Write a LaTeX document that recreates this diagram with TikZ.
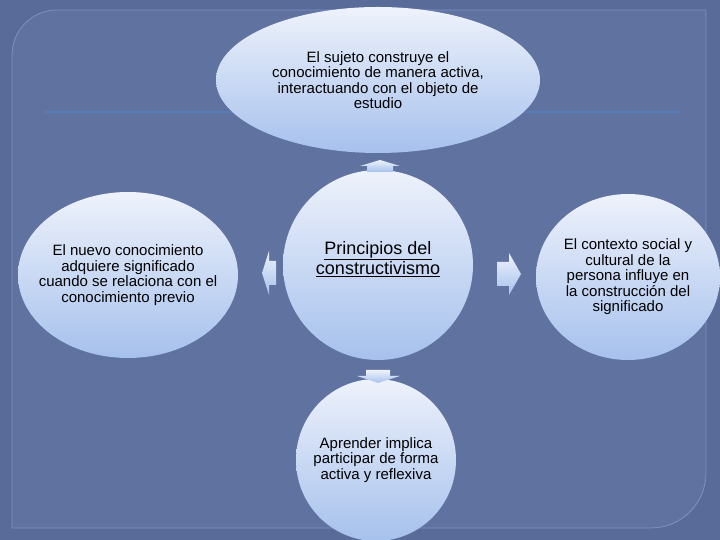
\documentclass[tikz,border=0pt]{standalone}
\usepackage{fontspec}
\setmainfont{Liberation Sans}
\usetikzlibrary{shapes.geometric}
\definecolor{bgout}{RGB}{89,107,152}
\definecolor{bgpanel}{RGB}{96,115,160}
\definecolor{panelline}{RGB}{125,146,196}
\definecolor{rule}{RGB}{88,124,184}
\definecolor{shtop}{RGB}{238,242,251}
\definecolor{shbot}{RGB}{166,193,237}
\tikzset{
  bubble/.style={ellipse, inner sep=0pt, top color=shtop, bottom color=shbot, draw=none},
  bubbletext/.style={align=center, text=black, inner sep=0pt, font=\fontsize{15}{15.5}\selectfont},
  blockarrow/.style={top color=shtop, bottom color=shbot, draw=none}
}
\begin{document}
\begin{tikzpicture}[x=1pt,y=1pt]
\useasboundingbox (0,0) rectangle (720,540);
\fill[bgout] (0,0) rectangle (720,540);
\path[fill=bgpanel, draw=panelline, line width=0.8pt]
  (12,12) -- (12,485) arc[start angle=180,end angle=90,radius=45] -- (706,530)
  -- (706,67) arc[start angle=0,end angle=-90,radius=55] -- cycle;
\draw[rule, line width=1.6pt] (45,428) -- (680,428);

\node[bubble, minimum width=324pt, minimum height=146pt] (top) at (378,460) {};
\node[bubbletext] (toptext) at (top.center)
  {El sujeto construye el\\conocimiento de manera activa,\\interactuando con el objeto de\\estudio};
\node[bubble, circle, minimum size=190pt] (center) at (378,275) {};
\node[align=center, inner sep=0pt, font=\fontsize{18}{20}\selectfont] (ctext) at (378,281)
  {\underline{Principios del}\\\underline{constructivismo}};
\node[bubble, minimum width=220pt, minimum height=166pt] (left) at (128,265) {};
\node[bubbletext] (lefttext) at (left.center)
  {El nuevo conocimiento\\adquiere significado\\cuando se relaciona con el\\conocimiento previo};
\node[bubble, minimum width=184pt, minimum height=166pt] (right) at (628,263) {};
\node[bubbletext] (righttext) at (right.center)
  {El contexto social y\\cultural de la\\persona influye en\\la construcción del\\significado};
\node[bubble, minimum width=160pt, minimum height=162pt] (bottom) at (376,80) {};
\node[bubbletext] (bottomtext) at (bottom.center)
  {Aprender implica\\participar de forma\\activa y reflexiva};

% block arrows
\shade[blockarrow] (380,380) -- (400,374) -- (393,374) -- (393,368) -- (367,368) -- (367,374) -- (360,374) -- cycle;
\shade[blockarrow] (366,170) -- (390,170) -- (390,164) -- (400,164) -- (378,157) -- (357,164) -- (366,164) -- cycle;
\shade[blockarrow] (262,267) -- (269,289) -- (269,279) -- (276,279) -- (276,255) -- (269,255) -- (269,245) -- cycle;
\shade[blockarrow] (497,278) -- (509,278) -- (509,287) -- (521,266) -- (509,245) -- (509,254) -- (497,254) -- cycle;
\end{tikzpicture}
\end{document}
